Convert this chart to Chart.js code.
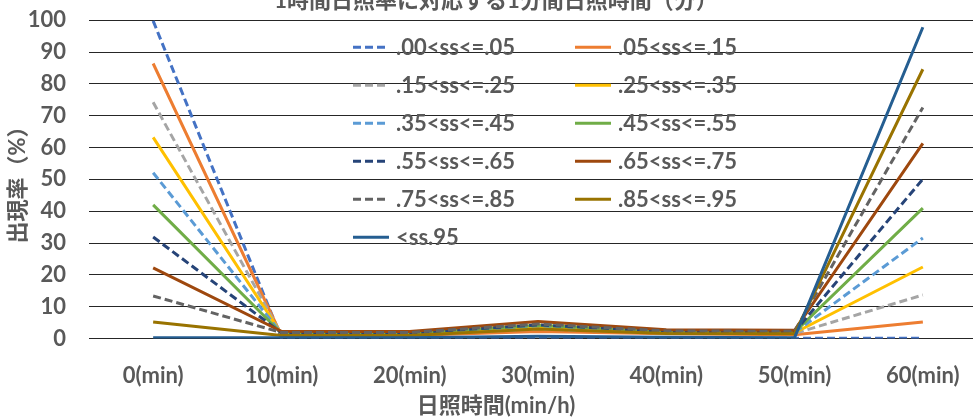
<!DOCTYPE html>
<html>
<head>
<meta charset="utf-8">
<title>1時間日照率に対応する1分間日照時間</title>
<script src="https://cdn.jsdelivr.net/npm/chart.js@4.4.1/dist/chart.umd.min.js"></script>
<style>
  html, body { margin: 0; padding: 0; background: #fff; overflow: hidden; }
  /* the source picture is cropped on the top and right, so the canvas is a bit larger than the window */
  #wrap { position: relative; width: 973px; height: 419px; overflow: hidden; }
  #box { position: absolute; left: 0; top: -16px; width: 990px; height: 435px; }
</style>
</head>
<body>
<div id="wrap"><div id="box"><canvas id="chart"></canvas></div></div>
<script>
// ---- data -------------------------------------------------------------
const categories = ['0(min)', '10(min)', '20(min)', '30(min)', '40(min)', '50(min)', '60(min)'];
const yTicks = [0, 10, 20, 30, 40, 50, 60, 70, 80, 90, 100];

const seriesLabels = [
    '.00<ss<=.05', '.05<ss<=.15', '.15<ss<=.25', '.25<ss<=.35',
    '.35<ss<=.45', '.45<ss<=.55', '.55<ss<=.65', '.65<ss<=.75',
    '.75<ss<=.85', '.85<ss<=.95', '<ss.95'
];

const ss00_05 = [99.8, 0.1, 0.1, 0.2, 0.1, 0.1, 0.1];
const ss05_15 = [86.4, 1.0, 1.0, 2.2, 1.5, 1.2, 5.2];
const ss15_25 = [74.2, 1.3, 1.3, 3.0, 1.8, 1.6, 13.7];
const ss25_35 = [63.2, 1.5, 1.5, 3.8, 2.0, 1.8, 22.5];
const ss35_45 = [52.1, 1.6, 1.6, 4.0, 2.1, 1.9, 31.6];
const ss45_55 = [42.0, 1.7, 1.7, 4.2, 2.2, 2.0, 41.0];
const ss55_65 = [31.9, 1.8, 1.8, 4.3, 2.3, 2.1, 50.1];
const ss65_75 = [22.2, 2.3, 2.2, 5.4, 2.8, 2.6, 61.3];
const ss75_85 = [13.4, 1.9, 1.9, 4.6, 2.4, 2.3, 72.6];
const ss85_95 = [5.2, 1.0, 1.0, 3.0, 1.6, 1.5, 84.6];
const ssOver95 = [0.3, 0.3, 0.3, 0.7, 0.4, 0.3, 97.8];

const seriesValues = [
    ss00_05, ss05_15, ss15_25, ss25_35, ss35_45, ss45_55,
    ss55_65, ss65_75, ss75_85, ss85_95, ssOver95
];

// ---- styles -----------------------------------------------------------
const COLORS = [
    '#4472C4', '#ED7D31', '#A5A5A5', '#FFC000', '#5B9BD5', '#70AD47',
    '#264478', '#9E480E', '#636363', '#997300', '#255E91'
];
const DASHED = [true, false, true, false, true, false, true, false, true, false, false];
const DASH = [8, 4];
const TEXT = '#595959';
const GRID = '#262626';
const FONT = "Lato, 'Noto Sans CJK JP', sans-serif";

const datasets = seriesValues.map((vals, i) => ({
    label: seriesLabels[i],
    data: vals,
    borderColor: COLORS[i],
    backgroundColor: COLORS[i],
    borderWidth: 3,
    borderDash: DASHED[i] ? DASH : [],
    pointRadius: 0,
    tension: 0,
    fill: false,
    order: seriesValues.length - i,   // later series on top, like the source
}));

// legend drawn inside the plot area, two columns
const innerLegend = {
    id: 'innerLegend',
    afterDatasetsDraw(chart) {
        const { ctx, chartArea } = chart;
        const x0 = chartArea.left + 264;   // first sample start
        const y0 = chartArea.top + 27;     // first row centre
        const colW = 222, rowH = 38, sample = 36;
        ctx.save();
        ctx.font = `bold 22px ${FONT}`;
        ctx.textBaseline = 'middle';
        chart.data.datasets.forEach((ds, i) => {
            const x = x0 + (i % 2) * colW;
            const y = y0 + Math.floor(i / 2) * rowH;
            ctx.strokeStyle = ds.borderColor;
            ctx.lineWidth = 3;
            ctx.setLineDash(ds.borderDash);
            ctx.beginPath();
            ctx.moveTo(x, y);
            ctx.lineTo(x + sample, y);
            ctx.stroke();
            ctx.setLineDash([]);
            ctx.fillStyle = TEXT;
            ctx.fillText(ds.label, x + sample + 7, y + 1);
        });
        ctx.restore();
    }
};

new Chart(document.getElementById('chart'), {
    type: 'line',
    data: { labels: categories, datasets },
    plugins: [innerLegend],
    options: {
        responsive: true,
        maintainAspectRatio: false,
        animation: false,
        layout: { padding: { top: 1, left: 5, right: 3, bottom: 0 } },
        scales: {
            x: {
                offset: true,
                grid: { display: false, drawTicks: false },
                border: { display: false },
                afterFit: scale => { scale.height = 50; },
                ticks: {
                    color: TEXT,
                    font: { family: FONT, size: 22, weight: 'bold' },
                    padding: 24,
                    maxRotation: 0,
                    autoSkip: false,
                },
            },
            y: {
                min: yTicks[0],
                max: yTicks[yTicks.length - 1],
                afterBuildTicks: scale => { scale.ticks = yTicks.map(v => ({ value: v })); },
                afterFit: scale => { scale.width = 84; },
                grid: { color: GRID, lineWidth: 1, drawTicks: false },
                border: { display: false },
                ticks: {
                    color: TEXT,
                    font: { family: FONT, size: 22, weight: 'bold' },
                    padding: 23,
                },
                title: {
                    display: true,
                    text: '出現率（%）',
                    color: TEXT,
                    font: { family: FONT, size: 22, weight: 'bold' },
                    padding: 0,
                },
            },
        },
        plugins: {
            legend: { display: false },
            tooltip: { enabled: false },
            title: {
                display: true,
                text: '1時間日照率に対応する1分間日照時間（分）',
                color: TEXT,
                font: { family: FONT, size: 22, weight: 'bold' },
                padding: { top: 0, bottom: 6 },
            },
            subtitle: {
                display: true,
                position: 'bottom',
                text: '日照時間(min/h)',
                color: TEXT,
                font: { family: FONT, size: 22, weight: 'bold' },
                padding: { top: 4, bottom: 0 },
            },
        },
    },
});
</script>
</body>
</html>
